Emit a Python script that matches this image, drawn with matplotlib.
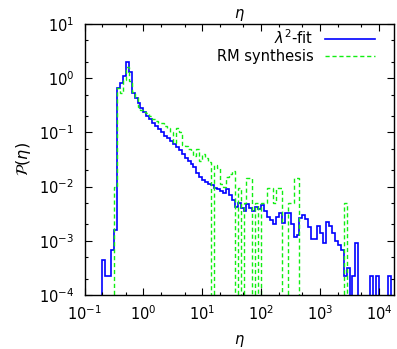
import numpy as np
import matplotlib
matplotlib.use("Agg")
import matplotlib.pyplot as plt
from matplotlib.ticker import LogLocator, NullFormatter

# ---- data -------------------------------------------------------------
# histogram bins: 20 per decade, log10(eta) edges = -1 + k/20
bins_per_decade = 20
log_eta_min = -1.0
n_edges = 107

# lambda^2-fit histogram, starting at bin k = 6
fit_start = 6
fit_vals = [
    4.5e-4, 2.2e-4, 2.2e-4, 6.8e-4, 1.55e-3,
    0.65, 0.80, 1.10, 2.00, 1.29, 0.54, 0.43, 0.35, 0.28, 0.24,
    0.20, 0.174, 0.151, 0.132, 0.117, 0.100, 0.087, 0.078, 0.068, 0.060,
    0.054, 0.047, 0.040, 0.034, 0.030, 0.026, 0.023, 0.018, 0.0148, 0.0135,
    0.0120, 0.0112, 0.0107, 0.0095, 0.0089, 0.0083, 0.0076, 0.0089, 0.0071, 0.0056,
    0.0042, 0.0050, 0.0040, 0.0035, 0.0048, 0.0040, 0.0035, 0.0042, 0.0038, 0.0045,
    0.0035, 0.0028, 0.0024, 0.0020, 0.0028, 0.0033, 0.0021, 0.0032, 0.0033, 0.0020,
    0.0012, 0.00126, 0.0026, 0.0030, 0.0025, 0.0018, 0.0011, 0.0011, 0.0019, 0.0014,
    0.0009, 0.0022, 0.0019, 0.0014, 0.0010, 0.00085, 0.00068, 0.00022, 0.00032, 0.0,
    0.00022, 0.0009, 0.0, 0.0, 0.0, 0.0, 0.00022, 0.0, 0.00022, 0.0,
    0.0, 0.0, 0.00022,
]

# RM-synthesis histogram, starting at bin k = 10
rm_start = 10
rm_vals = [
    0.010, 0.65, 0.54, 0.93, 1.6, 0.90, 0.56, 0.45, 0.30, 0.26,
    0.24, 0.23, 0.20, 0.18, 0.16, 0.15, 0.15, 0.13, 0.12, 0.10,
    0.065, 0.12, 0.10, 0.058, 0.056, 0.050, 0.045, 0.036, 0.050, 0.030,
    0.040, 0.034, 0.028, 0.0, 0.025, 0.022, 0.011, 0.010, 0.015, 0.017,
    0.019, 0.0, 0.0093, 0.0, 0.005, 0.0145, 0.0145, 0.0, 0.005, 0.0,
    0.005, 0.005, 0.0093, 0.0093, 0.005, 0.0093, 0.0093, 0.0, 0.0, 0.005,
    0.005, 0.0145, 0.0145, 0.0, 0.0, 0.0, 0.0, 0.0, 0.0, 0.0,
    0.0, 0.0, 0.0, 0.0, 0.0, 0.0, 0.0, 0.0, 0.0049, 0.0,
]

labels = [r"$\lambda^2$-fit", "RM synthesis"]

# ---- plot -------------------------------------------------------------
plt.rcParams["font.family"] = ["DejaVu Sans"]
plt.rcParams["mathtext.fontset"] = "dejavusans"

edges = 10 ** (log_eta_min + np.arange(n_edges) / bins_per_decade)

fig = plt.figure(figsize=(3.97, 3.49), dpi=100)
ax = fig.add_axes([84.5 / 397, 1 - 295 / 349, (394 - 84.5) / 397, (295 - 24) / 349])

fit_edges = edges[fit_start:fit_start + len(fit_vals) + 1]
rm_edges = edges[rm_start:rm_start + len(rm_vals) + 1]

ax.stairs(fit_vals, fit_edges, color="#0000ff", lw=1.2, label=labels[0], baseline=0)
ax.stairs(rm_vals, rm_edges, color="#11ee11", lw=1.0, linestyle=(0, (3, 2)),
          label=labels[1], baseline=0)

ax.set_xscale("log")
ax.set_yscale("log")
ax.set_xlim(0.1, 1.8e4)
ax.set_ylim(1e-4, 10)

for axis in (ax.xaxis, ax.yaxis):
    axis.set_major_locator(LogLocator(base=10, numticks=20))
    axis.set_minor_locator(LogLocator(base=10, subs=(2.0, 5.0), numticks=20))
    axis.set_minor_formatter(NullFormatter())

ax.tick_params(which="both", direction="in", top=True, right=True, labelsize=10.5)
ax.tick_params(which="major", length=5, width=0.8)
ax.tick_params(which="minor", length=2.5, width=0.8)
ax.tick_params(axis="x", which="major", pad=7)
ax.tick_params(axis="y", which="major", pad=7.5)
for s in ax.spines.values():
    s.set_linewidth(1.0)

ax.set_xlabel(r"$\eta$", fontsize=10.5, labelpad=7)
ax.set_title(r"$\eta$", fontsize=10.5, pad=4)
ax.set_ylabel(r"$\mathcal{P}(\eta)$", fontsize=11.5, labelpad=4)

leg = ax.legend(loc="upper right", bbox_to_anchor=(0.971, 1.022), frameon=False,
                markerfirst=False, fontsize=10.5, handlelength=3.4,
                borderaxespad=0.3, labelspacing=0.15, handletextpad=0.8)

fig.savefig("out.png", dpi=100)
